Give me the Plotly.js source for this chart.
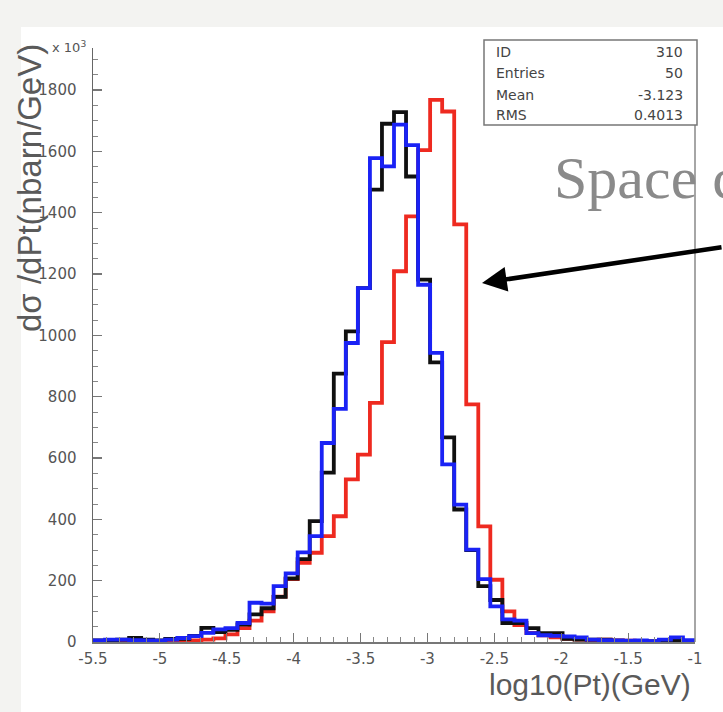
<!DOCTYPE html>
<html>
<head>
<meta charset="utf-8">
<script src="https://cdn.plot.ly/plotly-3.0.1.min.js"></script>
<style>
  html, body { margin: 0; padding: 0; background: #ffffff; }
  #chart { width: 723px; height: 712px; }
</style>
</head>
<body>
<div id="chart"></div>
<script>
// Histogram binning: 50 bins of log10(Pt) from -5.5 to -1
const binLow = -5.5;
const binWidth = 0.09;
const nBins = 50;

// Bin contents (nbarn/GeV)
const redCounts = [
  0, 0, 0, 0, 0, 2, 3, 3, 5, 8,
  12, 25, 45, 70, 100, 148, 205, 258, 291, 345,
  410, 530, 611, 780, 978, 1209, 1388, 1604, 1768, 1730,
  1362, 775, 377, 203, 100, 55, 30, 22, 15, 10,
  8, 6, 8, 5, 4, 3, 2, 2, 3, 2
];
const blackCounts = [
  5, 5, 8, 13, 8, 5, 10, 10, 20, 46,
  32, 40, 57, 90, 110, 147, 207, 270, 394, 552,
  875, 1013, 1154, 1475, 1690, 1728, 1518, 1182, 912, 667,
  432, 300, 182, 137, 62, 62, 45, 29, 29, 10,
  8, 8, 8, 4, 3, 3, 2, 3, 5, 3
];
const blueCounts = [
  5, 8, 8, 6, 5, 4, 8, 13, 19, 30,
  41, 45, 62, 128, 125, 182, 224, 292, 345, 649,
  760, 975, 1154, 1578, 1551, 1687, 1620, 1165, 943, 579,
  448, 301, 205, 116, 74, 70, 29, 22, 20, 18,
  15, 8, 6, 5, 4, 5, 3, 8, 15, 6
];

// Axis tick labels
const xTickVals = [-5.5, -5, -4.5, -4, -3.5, -3, -2.5, -2, -1.5, -1];
const xTickText = ['-5.5', '-5', '-4.5', '-4', '-3.5', '-3', '-2.5', '-2', '-1.5', '-1'];
const yTickVals = [0, 200, 400, 600, 800, 1000, 1200, 1400, 1600, 1800];
const yTickText = ['0', '200', '400', '600', '800', '1000', '1200', '1400', '1600', '1800'];

// Statistics box entries
const statLabels = ['ID', 'Entries', 'Mean', 'RMS'];
const statValues = ['310', '50', '-3.123', '0.4013'];

// Step outline through the bin edges (last value repeated to close the final bin)
function stepTrace(counts, color) {
  const edges = [];
  for (let k = 0; k <= nBins; k++) edges.push(binLow + k * binWidth);
  const ys = counts.concat([counts[counts.length - 1]]);
  return {
    type: 'scatter',
    mode: 'lines',
    x: edges,
    y: ys,
    line: { shape: 'hv', color: color, width: 3.8 },
    hoverinfo: 'skip',
    showlegend: false,
    cliponaxis: false
  };
}

const traces = [
  stepTrace(redCounts, '#ee2a20'),
  stepTrace(blackCounts, '#101010'),
  stepTrace(blueCounts, '#1a22f5')
];

// Plot-area geometry in pixels (for placing paper-referenced items)
const W = 723, H = 712;
const mL = 93, mR = 28, mT = 48, mB = 70;
const pw = W - mL - mR, ph = H - mT - mB;
const px = v => (v - mL) / pw;
const py = v => (H - mB - v) / ph;

const tickFont = { family: 'DejaVu Sans, sans-serif', size: 15, color: '#555555' };
const statFont = { family: 'DejaVu Sans, sans-serif', size: 14, color: '#444444' };

const annotations = [];
const statRows = [52, 73, 95, 115];
statLabels.forEach((lab, i) => {
  annotations.push({
    xref: 'paper', yref: 'paper', x: px(494), y: py(statRows[i]),
    xanchor: 'left', yanchor: 'middle', text: lab, showarrow: false, font: statFont
  });
  annotations.push({
    xref: 'paper', yref: 'paper', x: px(685), y: py(statRows[i]),
    xanchor: 'right', yanchor: 'middle', text: statValues[i], showarrow: false, font: statFont
  });
});

// Axis titles
annotations.push({
  xref: 'paper', yref: 'paper', x: px(693), y: py(684),
  xanchor: 'right', yanchor: 'middle', showarrow: false,
  text: 'log10(Pt)(GeV)',
  font: { family: 'Liberation Sans, Arial, sans-serif', size: 30, color: '#5a5a5a' }
});
annotations.push({
  xref: 'paper', yref: 'paper', x: px(29), y: py(188),
  xanchor: 'center', yanchor: 'middle', showarrow: false, textangle: -90,
  text: 'dσ /dPt(nbarn/GeV)',
  font: { family: 'Liberation Sans, Arial, sans-serif', size: 33, color: '#5a5a5a' }
});
// Exponent marker on the y axis
annotations.push({
  xref: 'paper', yref: 'paper', x: px(88), y: py(47),
  xanchor: 'right', yanchor: 'middle', showarrow: false,
  text: 'x 10<sup>3</sup>',
  font: { family: 'DejaVu Sans, sans-serif', size: 13, color: '#555555' }
});
// Slide caption and pointer arrow
annotations.push({
  xref: 'paper', yref: 'paper', x: px(552), y: py(178),
  xanchor: 'left', yanchor: 'middle', showarrow: false,
  text: 'Space c',
  font: { family: 'Liberation Serif, Times New Roman, serif', size: 60, color: '#8a8a8a' }
});
annotations.push({
  xref: 'paper', yref: 'paper', x: px(482), y: py(283),
  axref: 'pixel', ayref: 'pixel', ax: 245, ay: -36,
  text: '', showarrow: true, arrowhead: 2, arrowsize: 1.1, arrowwidth: 4.5,
  arrowcolor: '#000000'
});

const shapes = [
  // light slide margin
  { type: 'rect', xref: 'paper', yref: 'paper', layer: 'below',
    x0: px(0), x1: px(W), y0: py(0), y1: py(27), fillcolor: '#f3f3f1', line: { width: 0 } },
  { type: 'rect', xref: 'paper', yref: 'paper', layer: 'below',
    x0: px(0), x1: px(21), y0: py(0), y1: py(H), fillcolor: '#f3f3f1', line: { width: 0 } },
  // right side of frame
  { type: 'line', xref: 'paper', yref: 'paper', layer: 'above',
    x0: 1, x1: 1, y0: 0, y1: py(125), line: { color: '#888888', width: 1.5 } },
  // statistics box
  { type: 'rect', xref: 'paper', yref: 'paper', layer: 'above',
    x0: px(484), x1: px(697), y0: py(125), y1: py(40),
    fillcolor: '#ffffff', line: { color: '#777777', width: 1.5 } }
];

const layout = {
  width: W, height: H,
  margin: { l: mL, r: mR, t: mT, b: mB, pad: 0 },
  paper_bgcolor: '#ffffff',
  plot_bgcolor: '#ffffff',
  showlegend: false,
  xaxis: {
    range: [-5.5, -1],
    showgrid: false, zeroline: false,
    showline: true, linecolor: '#777777', linewidth: 1.5,
    ticks: 'inside', ticklen: 9, tickwidth: 1.2, tickcolor: '#777777',
    tickmode: 'array', tickvals: xTickVals, ticktext: xTickText,
    minor: { ticks: 'inside', ticklen: 5, tickwidth: 1, tickcolor: '#888888', tick0: -5.5, dtick: 0.1 },
    tickfont: tickFont,
    ticklabelstandoff: 2
  },
  yaxis: {
    range: [0, 1937],
    showgrid: false, zeroline: false,
    showline: true, linecolor: '#666666', linewidth: 1.5,
    ticks: 'inside', ticklen: 9, tickwidth: 1.2, tickcolor: '#777777',
    tickmode: 'array', tickvals: yTickVals, ticktext: yTickText,
    minor: { ticks: 'inside', ticklen: 5, tickwidth: 1, tickcolor: '#888888', tick0: 0, dtick: 50 },
    tickfont: tickFont,
    ticklabelstandoff: 12
  },
  shapes: shapes,
  annotations: annotations
};

Plotly.newPlot('chart', traces, layout, { displayModeBar: false, staticPlot: true });
</script>
</body>
</html>
